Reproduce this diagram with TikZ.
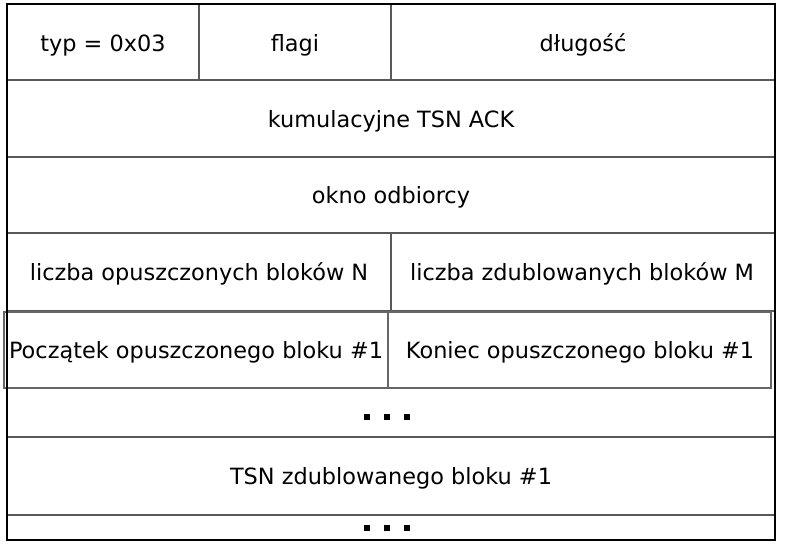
\documentclass[tikz,border=0pt]{standalone}
\usepackage{fontspec}
\setmainfont{DejaVu Sans}
\begin{document}
\begin{tikzpicture}[x=1pt,y=-1pt,
  field/.style={anchor=base,inner sep=0pt,font=\fontsize{22.4}{26}\selectfont,text=black},
  grid/.style={draw=black!65,line width=1.3pt},
  frame/.style={draw=black,line width=2.6pt},
  dot/.style={fill=black,inner sep=0pt,minimum size=5.5pt}]
\useasboundingbox (0,0) rectangle (791,547);
% horizontal separators between rows
\draw[grid] (7,80) -- (775,80);
\draw[grid] (7,157) -- (775,157);
\draw[grid] (7,233) -- (775,233);
\draw[grid] (7,311) -- (775,311);
\draw[grid] (7,437) -- (775,437);
\draw[grid] (7,515) -- (775,515);
% vertical separators
\draw[grid] (199,4) -- (199,80);
\draw[grid] (391,4) -- (391,80);
\draw[grid] (391,233) -- (391,311);
% block-range row, drawn as its own box
\draw[draw=black!60,line width=1.1pt,fill=white] (4,312) rectangle (771,388);
\draw[draw=black!60,line width=1.1pt] (388,312) -- (388,388);
% outer frame
\draw[frame] (7,4) rectangle (775,540);
% field labels
\node[field] (typ) at (103,51) {typ = 0x03};
\node[field] (flagi) at (295,51) {flagi};
\node[field] (dlug) at (583,51) {długość};
\node[field] (ack) at (391,127) {kumulacyjne TSN ACK};
\node[field] (okno) at (391,203) {okno odbiorcy};
\node[field] (nopu) at (199,280) {liczba opuszczonych bloków N};
\node[field] (nzdu) at (582,280) {liczba zdublowanych bloków M};
\node[field] (pocz) at (196,358) {Początek opuszczonego bloku \#1};
\node[field] (kon) at (580,358) {Koniec opuszczonego bloku \#1};
\node[field] (tsn) at (391,484) {TSN zdublowanego bloku \#1};
% ellipsis marks
\node[dot] (d1) at (367,417) {};
\node[dot] (d2) at (387,417) {};
\node[dot] (d3) at (407,417) {};
\node[dot] (d4) at (367,528) {};
\node[dot] (d5) at (387,528) {};
\node[dot] (d6) at (407,528) {};
\end{tikzpicture}
\end{document}
